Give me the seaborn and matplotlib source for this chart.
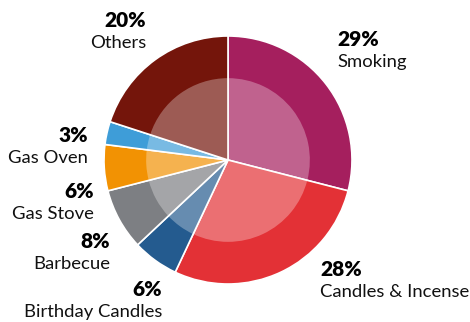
import matplotlib
matplotlib.use("Agg")
import matplotlib.pyplot as plt
import seaborn as sns

# Share of sources
categories = ["Smoking", "Candles & Incense", "Birthday Candles", "Barbecue",
              "Gas Stove", "Gas Oven", "Others"]
shares = [29, 28, 6, 8, 6, 3, 20]
pct_labels = [f"{v}%" for v in shares]
colors = ["#A51F5E", "#E33136", "#245B8F", "#7D7F83", "#F29203", "#3E9DD8", "#74150B"]

# Label anchor positions (data units, pie radius = 1) and alignment
label_pos = [(0.879, 0.968), (0.742, -0.887), (-0.532, -1.048), (-0.952, -0.661),
             (-1.08, -0.258), (-1.129, 0.194), (-0.661, 1.121)]
label_ha = ["left", "left", "right", "right", "right", "right", "right"]

sns.set_theme(style="white")
plt.rcParams["font.family"] = ["Lato", "DejaVu Sans"]

W, H = 470, 322
cx, cy, r = 228, 160, 124
fig = plt.figure(figsize=(W / 100, H / 100), dpi=100)
ax = fig.add_axes([(cx - r) / W, (H - cy - r) / H, 2 * r / W, 2 * r / H])
ax.set_aspect("equal")
ax.axis("off")

palette = sns.color_palette(colors)
ax.pie(shares, colors=palette, startangle=90, counterclock=False, radius=1,
       wedgeprops=dict(edgecolor="white", linewidth=1.2))
# translucent inner ring
ax.pie(shares, colors=["white"] * len(shares), startangle=90, counterclock=False,
       radius=0.66, wedgeprops=dict(edgecolor="none", linewidth=0, alpha=0.3))
ax.set_xlim(-1, 1)
ax.set_ylim(-1, 1)

for name, pct, (x, y), ha in zip(categories, pct_labels, label_pos, label_ha):
    ax.text(x, y, pct, ha=ha, va="center", fontsize=15, fontweight="heavy",
            color="black", clip_on=False)
    ax.text(x, y - 0.180, name, ha=ha, va="center", fontsize=13.3,
            color="#111111", clip_on=False)

fig.savefig("out.png", dpi=100)
